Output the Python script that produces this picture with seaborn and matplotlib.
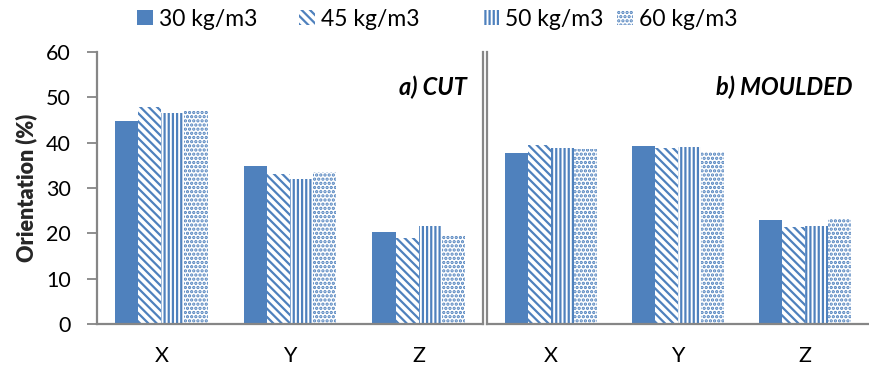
import matplotlib
matplotlib.use("Agg")
import matplotlib.pyplot as plt
import seaborn as sns
import pandas as pd

# Werte
directions = ["X", "Y", "Z"]
densities = ["30 kg/m3", "45 kg/m3", "50 kg/m3", "60 kg/m3"]

cut_30 = [44.7, 34.9, 20.3]
cut_45 = [47.9, 33.1, 19.0]
cut_50 = [46.5, 32.0, 21.7]
cut_60 = [47.0, 33.5, 19.6]

moulded_30 = [37.7, 39.2, 23.0]
moulded_45 = [39.4, 38.8, 21.4]
moulded_50 = [38.9, 39.0, 21.6]
moulded_60 = [38.5, 38.0, 23.2]

blue = "#4F81BD"
hatches = [None, "\\\\\\\\", "||||", "...."]


def make_df(series):
    rows = []
    for dens, vals in zip(densities, series):
        for d, v in zip(directions, vals):
            rows.append({"richtung": d, "dichte": dens, "wert": v})
    return pd.DataFrame(rows)


df_cut = make_df([cut_30, cut_45, cut_50, cut_60])
df_mould = make_df([moulded_30, moulded_45, moulded_50, moulded_60])

sns.set_style("white")
plt.rcParams["font.family"] = ["Lato", "DejaVu Sans"]
plt.rcParams["hatch.linewidth"] = 1.6
plt.rcParams["text.color"] = "black"
plt.rcParams["xtick.labelcolor"] = "black"
plt.rcParams["ytick.labelcolor"] = "black"

fig = plt.figure(figsize=(8.7, 3.73), dpi=100)
ax1 = fig.add_axes([97 / 870, 49 / 373, 386 / 870, 272 / 373])
ax2 = fig.add_axes([487 / 870, 49 / 373, 382 / 870, 272 / 373])

for ax, df, title in [(ax1, df_cut, "a) CUT"), (ax2, df_mould, "b) MOULDED")]:
    sns.barplot(data=df, x="richtung", y="wert", hue="dichte", order=directions,
                hue_order=densities, width=0.72, gap=0, ax=ax, legend=True)
    for cont, h in zip(ax.containers, hatches):
        for bar in cont:
            if h is None:
                bar.set_facecolor(blue)
                bar.set_edgecolor(blue)
                bar.set_linewidth(0)
            else:
                bar.set_facecolor("white")
                bar.set_edgecolor(blue)
                bar.set_hatch(h)
                bar.set_linewidth(0)
    ax.set_ylim(0, 60)
    ax.set_xlim(-0.5, 2.5)
    ax.set_xlabel("")
    ax.set_ylabel("")
    ax.text(0.957, 0.87, title, transform=ax.transAxes, ha="right", va="center",
            fontsize=17, fontweight="bold", fontstyle="italic", color="black")
    ax.legend_.remove()
    ax.tick_params(axis="x", labelsize=15.5, length=0, pad=16)
    for s in ["left", "bottom", "right"]:
        ax.spines[s].set_color("#868686")
        ax.spines[s].set_linewidth(1.6)
    ax.spines["top"].set_visible(False)

ax1.spines["right"].set_visible(True)
ax2.spines["right"].set_visible(False)
ax1.set_yticks(range(0, 61, 10))
ax1.tick_params(axis="y", labelsize=15.5, direction="out", length=7, width=1.3,
                color="#868686", left=True, pad=12)
ax1.set_ylabel("Orientation (%)", fontsize=15.5, fontweight="heavy", labelpad=6)
ax2.set_yticks([])

# Legende: einzelne Eintraege wie im Original ungleichmaessig verteilt
legend_x = [137, 299, 483, 617]
for cont, lab, lx in zip(ax1.containers, densities, legend_x):
    fig.legend([cont], [lab], loc="center left", bbox_to_anchor=(lx / 870, 1 - 19 / 373),
               frameon=False, fontsize=16.5, handlelength=0.68, handleheight=0.68,
               handletextpad=0.3, borderpad=0, borderaxespad=0)

fig.savefig("out.png", dpi=100)
